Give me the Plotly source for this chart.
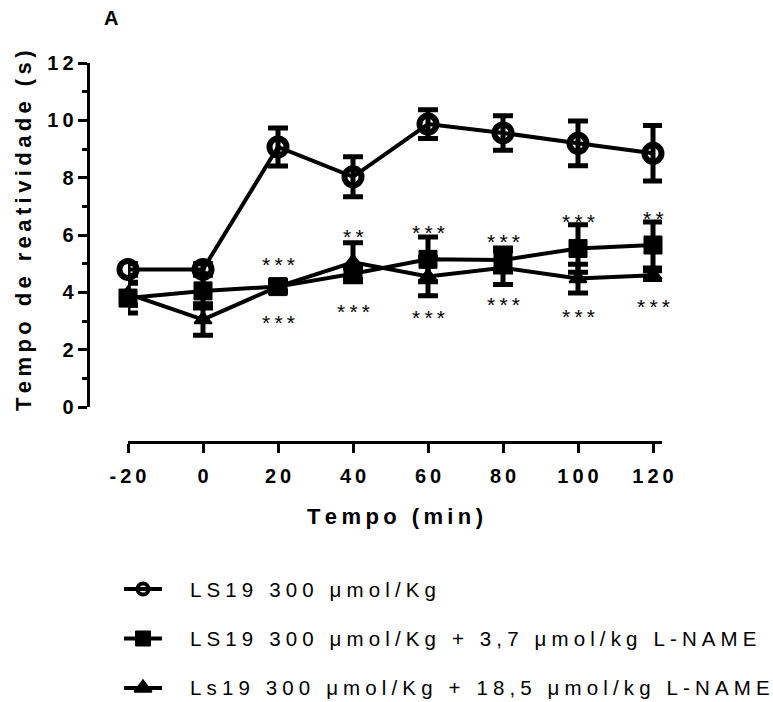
import plotly.graph_objects as go

W, H = 773, 702

# ---------------- data ----------------
time_min = [-20, 0, 20, 40, 60, 80, 100, 120]
ls19_mean = [4.8, 4.8, 9.07, 8.03, 9.87, 9.56, 9.2, 8.85]
ls19_sem = [0.2, 0.2, 0.66, 0.7, 0.5, 0.6, 0.78, 0.97]
lname37_mean = [3.8, 4.05, 4.2, 4.65, 5.15, 5.13, 5.53, 5.65]
lname37_sem = [0.52, 0.6, 0.15, 0.2, 0.78, 0.42, 0.83, 0.8]
lname185_mean = [3.95, 3.05, 4.2, 5.05, 4.55, 4.86, 4.48, 4.6]
lname185_sem = [0.4, 0.55, 0.2, 0.68, 0.67, 0.59, 0.5, 0.15]

sig_time = [20, 40, 60, 80, 100, 120]
sig_upper_text = ["***", "**", "***", "***", "***", "**"]
sig_upper_y = [5.03, 6.02, 6.14, 5.84, 6.54, 6.66]
sig_lower_text = ["***", "***", "***", "***", "***", "***"]
sig_lower_y = [3.03, 3.41, 3.19, 3.66, 3.24, 3.58]

x_ticks = [-20, 0, 20, 40, 60, 80, 100, 120]
y_ticks = [0, 2, 4, 6, 8, 10, 12]
y_minor = [1, 3, 5, 7, 9, 11]

legend_labels = [
    "LS19 300 \u03bcmol/Kg",
    "LS19 300 \u03bcmol/Kg + 3,7 \u03bcmol/kg L-NAME",
    "Ls19 300 \u03bcmol/Kg + 18,5 \u03bcmol/kg L-NAME",
]
legend_rows = [0, 1, 2]

# ---------------- helpers ----------------
THIN = "\u2009"
MID = "\u2005"
FONT = "Liberation Sans, Arial, sans-serif"


def spaced(s, sep):
    return sep.join(list(s))


def px(x):
    return x / W


def py(y):
    return 1 - y / H


fig = go.Figure()

series = [
    (ls19_mean, ls19_sem, "circle-open", 17, 6),
    (lname37_mean, lname37_sem, "square", 18, 1),
    (lname185_mean, lname185_sem, "triangle-up", 15, 2),
]
for mean, sem, sym, size, lw in series:
    fig.add_trace(go.Scatter(
        x=time_min, y=mean, mode="lines+markers",
        line=dict(color="black", width=4),
        marker=dict(symbol=sym, size=size, color="black",
                    line=dict(color="black", width=lw)),
        error_y=dict(type="data", array=sem, visible=True, color="black",
                     thickness=5, width=10),
        cliponaxis=False, showlegend=False, hoverinfo="skip",
    ))

# legend keys (drawn on an auxiliary pair of axes)
legend_syms = [("circle-open", 11, 4), ("square", 15, 1), ("triangle-up", 15, 2)]
for row, (sym, size, lw) in zip(legend_rows, legend_syms):
    fig.add_trace(go.Scatter(
        x=[0, 1], y=[row, row], mode="lines", xaxis="x2", yaxis="y2",
        line=dict(color="black", width=4), cliponaxis=False,
        showlegend=False, hoverinfo="skip"))
    fig.add_trace(go.Scatter(
        x=[0.5], y=[row], mode="markers", xaxis="x2", yaxis="y2",
        marker=dict(symbol=sym, size=size, color="black",
                    line=dict(color="black", width=lw)),
        cliponaxis=False, showlegend=False, hoverinfo="skip"))

tick_font = dict(family=FONT, size=20, color="black", weight="bold")

annotations = []
for x, t, y in zip(sig_time, sig_upper_text, sig_upper_y):
    annotations.append(dict(x=x, y=y, xref="x", yref="y", text=spaced(t, THIN),
                            showarrow=False, yshift=-2,
                            xanchor="center", yanchor="middle",
                            font=dict(family=FONT, size=21, color="black")))
for x, t, y in zip(sig_time, sig_lower_text, sig_lower_y):
    annotations.append(dict(x=x, y=y, xref="x", yref="y", text=spaced(t, THIN),
                            showarrow=False, yshift=-2,
                            xanchor="center", yanchor="middle",
                            font=dict(family=FONT, size=21, color="black")))

annotations.append(dict(x=px(111), y=py(18), xref="paper", yref="paper",
                        text="A", showarrow=False,
                        xanchor="center", yanchor="middle",
                        font=dict(family=FONT, size=20, color="black", weight="bold")))
annotations.append(dict(x=px(23.5), y=py(231.5), xref="paper", yref="paper",
                        text=spaced("Tempo de reatividade (s)", THIN), textangle=-90,
                        showarrow=False, xanchor="center", yanchor="middle",
                        font=dict(family=FONT, size=22, color="black", weight="bold")))
annotations.append(dict(x=px(395), y=py(516), xref="paper", yref="paper",
                        text=spaced("Tempo (min)", THIN), showarrow=False,
                        xanchor="center", yanchor="middle",
                        font=dict(family=FONT, size=22, color="black", weight="bold")))
for row, lab in zip(legend_rows, legend_labels):
    annotations.append(dict(x=px(188), y=row, xref="paper", yref="y2",
                            text=spaced(lab, MID), showarrow=False,
                            xanchor="left", yanchor="middle",
                            font=dict(family=FONT, size=20.5, color="black")))

fig.update_layout(
    width=W, height=H,
    margin=dict(l=0, r=0, t=0, b=0, pad=0),
    paper_bgcolor="white", plot_bgcolor="white",
    showlegend=False,
    xaxis=dict(
        domain=[px(128), px(662)], range=[-20, 122.4],
        anchor="free", position=py(441.7), automargin=False,
        showline=True, linewidth=3, linecolor="black",
        ticks="outside", ticklen=9, tickwidth=3, tickcolor="black",
        ticklabelstandoff=6,
        tickvals=x_ticks, ticktext=[spaced(str(v), THIN) for v in x_ticks],
        tickfont=tick_font, showgrid=False, zeroline=False, fixedrange=True,
    ),
    yaxis=dict(
        domain=[py(407), py(63)], range=[0, 12],
        anchor="free", position=px(87.5), automargin=False,
        showline=True, linewidth=3, linecolor="black",
        ticks="outside", ticklen=9, tickwidth=3, tickcolor="black",
        tickvals=y_ticks, ticktext=[spaced(str(v), THIN) for v in y_ticks],
        minor=dict(tickvals=y_minor, ticks="outside", ticklen=5, tickwidth=3,
                   tickcolor="black", showgrid=False),
        tickfont=tick_font, showgrid=False, zeroline=False, fixedrange=True,
    ),
    xaxis2=dict(domain=[px(124), px(162)], range=[0, 1], anchor="y2",
                visible=False, fixedrange=True, automargin=False),
    yaxis2=dict(domain=[py(702), py(560)], range=[2.283, -0.586], anchor="x2",
                visible=False, fixedrange=True, automargin=False),
    annotations=annotations,
)

fig.write_html("out.html")
